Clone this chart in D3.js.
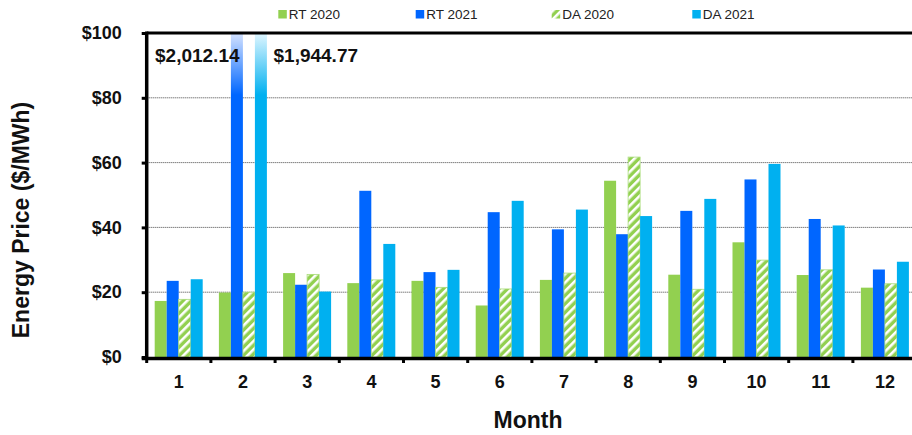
<!DOCTYPE html>
<html>
<head>
<meta charset="utf-8">
<script src="https://cdn.jsdelivr.net/npm/d3@7/dist/d3.min.js"></script>
<style>
  body { margin: 0; background: #fff; }
  text { font-family: "Liberation Sans", Arial, sans-serif; }
</style>
</head>
<body>
<div id="chart"></div>
<script>
// data
const months = ["1","2","3","4","5","6","7","8","9","10","11","12"];
const series = ["RT 2020", "RT 2021", "DA 2020", "DA 2021"];
const rt2020 = [17.3, 19.9, 25.9, 22.8, 23.5, 15.9, 23.8, 54.4, 25.4, 35.4, 25.3, 21.4];
const rt2021 = [23.5, 2012.14, 22.3, 51.3, 26.2, 44.7, 39.4, 37.9, 45.1, 54.8, 42.6, 27.0];
const da2020 = [17.8, 20.0, 25.5, 23.8, 21.5, 21.0, 25.9, 61.7, 20.9, 29.9, 26.9, 22.6];
const da2021 = [24.0, 1944.77, 20.2, 34.9, 26.9, 48.2, 45.5, 43.5, 48.8, 59.6, 40.6, 29.4];
const yTicks = [0, 20, 40, 60, 80, 100];

const values = { "RT 2020": rt2020, "RT 2021": rt2021, "DA 2020": da2020, "DA 2021": da2021 };
const fills = { "RT 2020": "#92D050", "RT 2021": "#0066FF", "DA 2020": "url(#hatch)", "DA 2021": "#00B0F0" };

const W = 912, H = 435;
const plotLeft = 146.7, plotTop = 33, plotBottom = 357;

const svg = d3.select("#chart").append("svg")
  .attr("width", W).attr("height", H);

const defs = svg.append("defs");
const pat = defs.append("pattern")
  .attr("id", "hatch")
  .attr("patternUnits", "userSpaceOnUse")
  .attr("width", 6).attr("height", 6)
  .attr("patternTransform", "rotate(45)");
pat.append("rect").attr("width", 6).attr("height", 6).attr("fill", "#92D050");
pat.append("rect").attr("width", 2.6).attr("height", 6).attr("fill", "#fff");

// fade-out gradients for the off-scale bars
function fade(id, light, full) {
  const g = defs.append("linearGradient")
    .attr("id", id)
    .attr("gradientUnits", "userSpaceOnUse")
    .attr("x1", 0).attr("x2", 0).attr("y1", plotTop).attr("y2", 95);
  g.append("stop").attr("offset", 0).attr("stop-color", light);
  g.append("stop").attr("offset", 1).attr("stop-color", full);
}
fade("fadeRT", "#d4e2ff", "#0066FF");
fade("fadeDA", "#e0f6ff", "#00B0F0");

const x = d3.scaleBand().domain(months).range([plotLeft, plotLeft + 64.2 * 12]);
const x1 = d3.scaleBand().domain(series).range([8, 56]);
const y = d3.scaleLinear().domain([0, 100]).range([plotBottom, plotTop]).clamp(true);

// gridlines
svg.append("g").selectAll("line")
  .data(yTicks.filter(d => d > 0 && d < 100))
  .join("line")
  .attr("x1", plotLeft).attr("x2", W)
  .attr("y1", d => y(d)).attr("y2", d => y(d))
  .attr("stroke", "#444").attr("stroke-width", 1)
  .attr("stroke-dasharray", "1,1");

// bars
const groups = svg.append("g").selectAll("g")
  .data(months)
  .join("g")
  .attr("transform", d => `translate(${x(d)},0)`);

groups.selectAll("rect")
  .data((m, i) => series.map(s => ({ s, v: values[s][i] })))
  .join("rect")
  .attr("x", d => x1(d.s))
  .attr("width", x1.bandwidth())
  .attr("y", d => y(d.v))
  .attr("height", d => y(0) - y(d.v))
  .attr("fill", d => d.v > 100 ? (d.s === "RT 2021" ? "url(#fadeRT)" : "url(#fadeDA)") : fills[d.s])
  .attr("stroke", d => d.s === "DA 2020" ? "#a8dc78" : "none")
  .attr("stroke-width", 0.8);

// off-scale value labels
const offIdx = months.indexOf("2");
svg.append("text")
  .attr("x", 155).attr("y", 61.5)
  .attr("font-size", 19).attr("font-weight", "bold").attr("fill", "#111")
  .text("$" + d3.format(",.2f")(rt2021[offIdx]));
svg.append("text")
  .attr("x", 273.5).attr("y", 61.5)
  .attr("font-size", 19).attr("font-weight", "bold").attr("fill", "#111")
  .text("$" + d3.format(",.2f")(da2021[offIdx]));

// y axis
const yAxis = svg.append("g")
  .attr("transform", `translate(${plotLeft},0)`)
  .call(d3.axisLeft(y).tickValues(yTicks).tickSize(5).tickPadding(20).tickFormat(d => "$" + d));
yAxis.select(".domain").remove();
yAxis.selectAll(".tick line").attr("stroke", "#000").attr("stroke-width", 3);
yAxis.selectAll("text").attr("font-size", 18).attr("font-weight", "bold").attr("fill", "#111")
  .attr("font-family", "Liberation Sans, Arial, sans-serif");

// frame
svg.append("line").attr("x1", plotLeft).attr("x2", plotLeft).attr("y1", plotTop - 1.5).attr("y2", plotBottom + 2)
  .attr("stroke", "#000").attr("stroke-width", 3.5);
svg.append("line").attr("x1", plotLeft).attr("x2", W).attr("y1", plotTop).attr("y2", plotTop)
  .attr("stroke", "#000").attr("stroke-width", 3);
svg.append("line").attr("x1", plotLeft - 5).attr("x2", W).attr("y1", plotBottom + 1.5).attr("y2", plotBottom + 1.5)
  .attr("stroke", "#000").attr("stroke-width", 3.5);

// x boundary ticks
svg.append("g").selectAll("line")
  .data(months)
  .join("line")
  .attr("x1", d => x(d)).attr("x2", d => x(d))
  .attr("y1", plotBottom + 2).attr("y2", plotBottom + 6)
  .attr("stroke", "#000").attr("stroke-width", 3);

// x axis labels
const xAxis = svg.append("g")
  .attr("transform", `translate(0,${plotBottom + 3})`)
  .call(d3.axisBottom(x).tickSize(0).tickPadding(15));
xAxis.select(".domain").remove();
xAxis.selectAll("text").attr("font-size", 18).attr("font-weight", "bold").attr("fill", "#111")
  .attr("font-family", "Liberation Sans, Arial, sans-serif");

// axis titles
svg.append("text")
  .attr("x", 528).attr("y", 428)
  .attr("text-anchor", "middle")
  .attr("font-size", 23).attr("font-weight", "bold").attr("fill", "#111")
  .text("Month");
svg.append("text")
  .attr("transform", "translate(29,220) rotate(-90)")
  .attr("text-anchor", "middle")
  .attr("font-size", 23).attr("font-weight", "bold").attr("fill", "#111")
  .text("Energy Price ($/MWh)");

// legend
const legendX = [278.3, 415.7, 551.7, 692.3];
const legend = svg.append("g").selectAll("g")
  .data(series)
  .join("g")
  .attr("transform", (d, i) => `translate(${legendX[i]},10)`);
legend.append("rect")
  .attr("width", 8.5).attr("height", 8.5)
  .attr("fill", d => fills[d]);
legend.append("text")
  .attr("x", 10.5).attr("y", 9)
  .attr("font-size", 13.5).attr("fill", "#222")
  .text(d => d);
</script>
</body>
</html>
